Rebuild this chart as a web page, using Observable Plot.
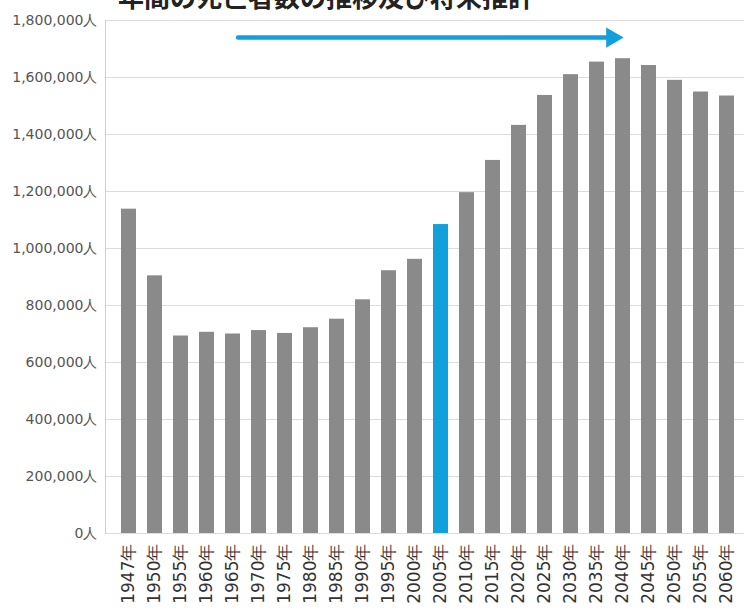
<!DOCTYPE html>
<html>
<head>
<meta charset="utf-8">
<script src="https://cdn.jsdelivr.net/npm/d3@7"></script>
<script src="https://cdn.jsdelivr.net/npm/@observablehq/plot@0.6"></script>
<style>
  html, body { margin: 0; padding: 0; background: #fff; overflow: hidden; }
  #wrap { position: relative; width: 744px; height: 613px; overflow: hidden; }
  #title { position: absolute; left: 118px; top: -17px; white-space: nowrap;
           font-family: "Noto Sans CJK JP", sans-serif; font-weight: 700; font-size: 26px; line-height: 26px; color: #222; }
  #chart { position: absolute; left: 0; top: 0; }
</style>
</head>
<body>
<div id="wrap">
  <div id="chart"></div>
  <div id="title">年間の死亡者数の推移及び将来推計</div>
</div>
<script>
const years = ["1947年","1950年","1955年","1960年","1965年","1970年","1975年","1980年","1985年","1990年","1995年","2000年","2005年","2010年","2015年","2020年","2025年","2030年","2035年","2040年","2045年","2050年","2055年","2060年"];
const deaths = [1138000, 904000, 693000, 706000, 700000, 712000, 702000, 722000, 752000, 820000, 922000, 962000, 1084000, 1196000, 1309000, 1432000, 1537000, 1610000, 1654000, 1666000, 1642000, 1590000, 1549000, 1535000];
const highlightYear = "2005年";
const arrowFrom = "1965年";
const arrowTo = "2040年";
const arrowLevel = 1740000;
const yTicks = [0, 200000, 400000, 600000, 800000, 1000000, 1200000, 1400000, 1600000, 1800000];

const gray = "#8a8a8a";
const blue = "#12a0dc";

const data = years.map((y, i) => ({year: y, value: deaths[i]}));

const chart = Plot.plot({
  width: 744,
  height: 613,
  marginTop: 20,
  marginBottom: 80,
  marginLeft: 105,
  marginRight: 0,
  style: {fontFamily: "DejaVu Sans, sans-serif", background: "transparent"},
  x: {domain: years, range: [105, 749], paddingInner: 0.44, paddingOuter: 0.32, label: null},
  y: {domain: [0, 1800000], label: null},
  marks: [
    Plot.gridY(yTicks, {stroke: "#dcdcdc", strokeOpacity: 1, strokeWidth: 1}),
    Plot.frame({anchor: "left", stroke: "#d0d0d0"}),
    Plot.barY(data, {x: "year", y: "value", fill: d => d.year === highlightYear ? blue : gray}),
    Plot.axisY(yTicks, {tickSize: 0, tickPadding: 8, tickFormat: d => d3.format(",")(d) + "人",
      fontSize: 14, fill: "#555", letterSpacing: "-0.3px"}),
    Plot.axisX({tickSize: 0, tickPadding: 10, tickRotate: -90, fontSize: 17, fill: "#333"}),
    Plot.arrow([{a: arrowFrom, b: arrowTo, v: arrowLevel}], {x1: "a", x2: "b", y1: "v", y2: "v",
      stroke: blue, strokeWidth: 4.5, headLength: 0, insetStart: 5, insetEnd: 16}),
    Plot.dot([{b: arrowTo, v: arrowLevel}], {x: "b", y: "v", symbol: "triangle", r: 7.5, rotate: 90,
      fill: blue, stroke: "none", dx: -11})
  ]
});
document.getElementById("chart").appendChild(chart);
</script>
</body>
</html>
